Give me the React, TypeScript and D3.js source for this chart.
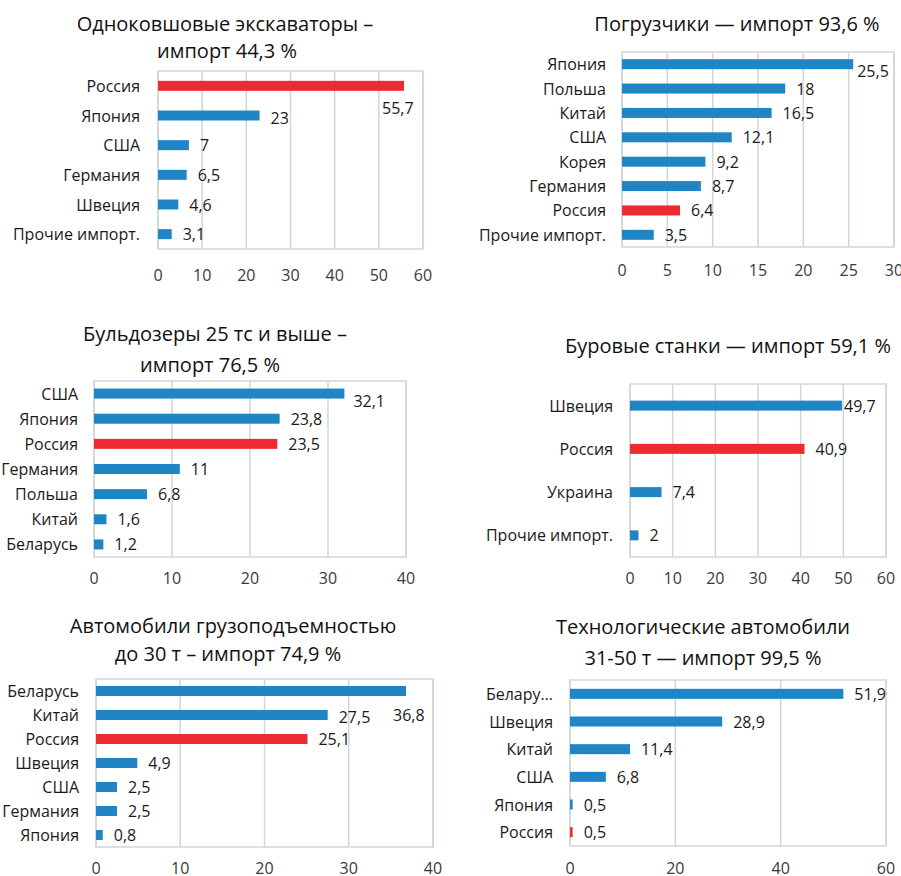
import React from "react";
import * as d3 from "d3";

// ---------- DATA ----------
const excCategories = ["Россия", "Япония", "США", "Германия", "Швеция", "Прочие импорт."];
const excValues = [55.7, 23, 7, 6.5, 4.6, 3.1];
const excTicks = [0, 10, 20, 30, 40, 50, 60];

const loadCategories = ["Япония", "Польша", "Китай", "США", "Корея", "Германия", "Россия", "Прочие импорт."];
const loadValues = [25.5, 18, 16.5, 12.1, 9.2, 8.7, 6.4, 3.5];
const loadTicks = [0, 5, 10, 15, 20, 25, 30];

const dozCategories = ["США", "Япония", "Россия", "Германия", "Польша", "Китай", "Беларусь"];
const dozValues = [32.1, 23.8, 23.5, 11, 6.8, 1.6, 1.2];
const dozTicks = [0, 10, 20, 30, 40];

const drillCategories = ["Швеция", "Россия", "Украина", "Прочие импорт."];
const drillValues = [49.7, 40.9, 7.4, 2];
const drillTicks = [0, 10, 20, 30, 40, 50, 60];

const truckCategories = ["Беларусь", "Китай", "Россия", "Швеция", "США", "Германия", "Япония"];
const truckValues = [36.8, 27.5, 25.1, 4.9, 2.5, 2.5, 0.8];
const truckTicks = [0, 10, 20, 30, 40];

const techCategories = ["Белару…", "Швеция", "Китай", "США", "Япония", "Россия"];
const techValues = [51.9, 28.9, 11.4, 6.8, 0.5, 0.5];
const techTicks = [0, 20, 40, 60];

const excTitle = ["Одноковшовые экскаваторы –", "импорт 44,3 %"];
const loadTitle = ["Погрузчики — импорт 93,6 %"];
const dozTitle = ["Бульдозеры 25 тс и выше –", "импорт 76,5 %"];
const drillTitle = ["Буровые станки — импорт 59,1 %"];
const truckTitle = ["Автомобили грузоподъемностью", "до 30 т – импорт 74,9 %"];
const techTitle = ["Технологические автомобили", "31-50 т — импорт 99,5 %"];

// ---------- STYLE ----------
const FONT = "'Open Sans', 'Noto Sans', sans-serif";
const BLUE = "#1f85c4";
const RED = "#ee2a33";
const GRID = "#cfd7da";

type LabelOverride = { x?: number; dy?: number; dx?: number };

type PanelProps = {
  categories: string[];
  values: number[];
  ticks: number[];
  title: string[];
  frame: { l: number; r: number; t: number; b: number };
  titleX: number[];
  titleY: number[];
  catRight: number;
  tickY: number;
  overrides?: Record<string, LabelOverride>;
};

const fmt = (v: number) => String(v).replace(".", ",");

function Panel(p: PanelProps) {
  const { frame } = p;
  const x = d3
    .scaleLinear()
    .domain([p.ticks[0], p.ticks[p.ticks.length - 1]])
    .range([frame.l, frame.r]);
  const y = d3.scaleBand<string>().domain(p.categories).range([frame.t, frame.b]);
  const barH = 10;
  return (
    <g>
      {p.title.map((t, i) => (
        <text
          key={"t" + i}
          x={p.titleX[i]}
          y={p.titleY[i]}
          textAnchor="middle"
          fontSize={20}
          fill="#111"
          fontFamily={FONT}
        >
          {t}
        </text>
      ))}
      <rect
        x={frame.l}
        y={frame.t}
        width={frame.r - frame.l}
        height={frame.b - frame.t}
        fill="none"
        stroke={GRID}
        strokeWidth={1.5}
      />
      {p.ticks.map((tk) => (
        <g key={"g" + tk}>
          <line x1={x(tk)} x2={x(tk)} y1={frame.t} y2={frame.b} stroke={GRID} strokeWidth={1.5} />
          <text
            x={x(tk)}
            y={p.tickY + 6}
            textAnchor="middle"
            fontSize={16}
            fill="#3a3a3a"
            fontFamily={FONT}
          >
            {tk}
          </text>
        </g>
      ))}
      {p.categories.map((c, i) => {
        const cy = (y(c) as number) + y.bandwidth() / 2;
        const v = p.values[i];
        const ov = (p.overrides && p.overrides[c]) || {};
        const lx = ov.x !== undefined ? ov.x : x(v) + 11 + (ov.dx || 0);
        const ly = cy + 6 + (ov.dy || 0);
        return (
          <g key={"b" + c}>
            <rect
              x={x(0)}
              y={cy - barH / 2}
              width={Math.max(0, x(v) - x(0))}
              height={barH}
              fill={c === "Россия" ? RED : BLUE}
            />
            <text
              x={p.catRight}
              y={cy + 6}
              textAnchor="end"
              fontSize={16}
              fill="#1a1a1a"
              fontFamily={FONT}
            >
              {c}
            </text>
            <text x={lx} y={ly} fontSize={16} fill="#1a1a1a" fontFamily={FONT}>
              {fmt(v)}
            </text>
          </g>
        );
      })}
    </g>
  );
}

export default function App() {
  return (
    <div style={{ position: "absolute", left: 0, top: 0, width: 901, height: 876, background: "#fff" }}>
      <svg width={901} height={876} style={{ display: "block" }}>
        <rect width={901} height={876} fill="#fff" />
        <Panel
          categories={excCategories}
          values={excValues}
          ticks={excTicks}
          title={excTitle}
          frame={{ l: 158, r: 423, t: 71, b: 249 }}
          titleX={[225, 227]}
          titleY={[31, 58]}
          catRight={140}
          tickY={275}
          overrides={{ "Россия": { x: 382, dy: 22 }, "Япония": { dy: 2 } }}
        />
        <Panel
          categories={loadCategories}
          values={loadValues}
          ticks={loadTicks}
          title={loadTitle}
          frame={{ l: 622, r: 894, t: 52, b: 247 }}
          titleX={[737]}
          titleY={[31]}
          catRight={606}
          tickY={270}
          overrides={{ "Япония": { dx: -7, dy: 7 } }}
        />
        <Panel
          categories={dozCategories}
          values={dozValues}
          ticks={dozTicks}
          title={dozTitle}
          frame={{ l: 94, r: 406, t: 381, b: 557 }}
          titleX={[215, 210]}
          titleY={[341, 372]}
          catRight={78}
          tickY={578}
          overrides={{ "США": { dx: -2, dy: 7 } }}
        />
        <Panel
          categories={drillCategories}
          values={drillValues}
          ticks={drillTicks}
          title={drillTitle}
          frame={{ l: 630, r: 886, t: 384, b: 557 }}
          titleX={[728]}
          titleY={[353]}
          catRight={613}
          tickY={578}
          overrides={{ "Швеция": { dx: -9 } }}
        />
        <Panel
          categories={truckCategories}
          values={truckValues}
          ticks={truckTicks}
          title={truckTitle}
          frame={{ l: 96, r: 433, t: 679, b: 847 }}
          titleX={[233, 228]}
          titleY={[633, 661]}
          catRight={79}
          tickY={868}
          overrides={{ "Беларусь": { x: 393, dy: 24 }, "Китай": { dy: 2 } }}
        />
        <Panel
          categories={techCategories}
          values={techValues}
          ticks={techTicks}
          title={techTitle}
          frame={{ l: 570, r: 886, t: 680, b: 846 }}
          titleX={[703, 703]}
          titleY={[634, 665]}
          catRight={553}
          tickY={868}
        />
      </svg>
    </div>
  );
}
